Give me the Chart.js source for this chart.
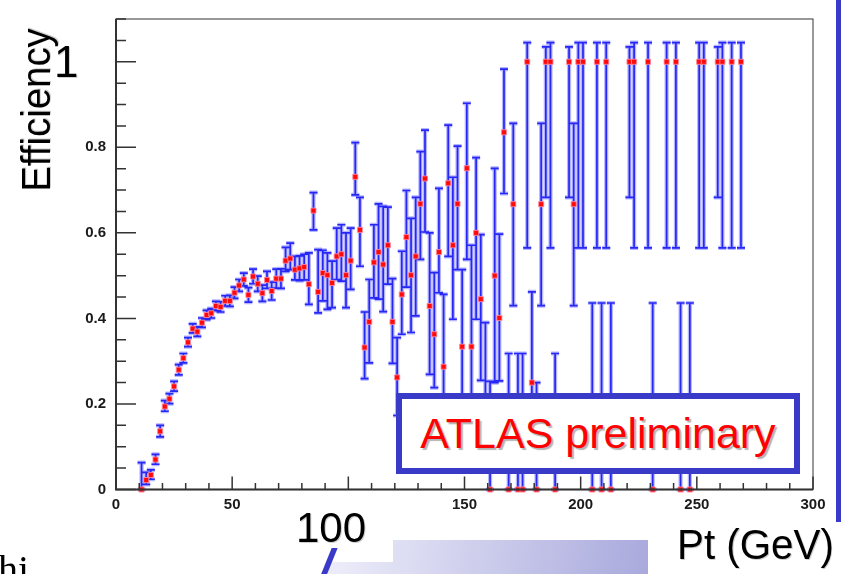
<!DOCTYPE html>
<html>
<head>
<meta charset="utf-8">
<script src="https://cdn.jsdelivr.net/npm/chart.js@4.4.0/dist/chart.umd.min.js"></script>
<style>
  body { margin: 0; background: #fff; }
  #wrap { position: relative; width: 845px; height: 574px; overflow: hidden; font-family: "Liberation Sans", Arial, sans-serif; }
  #chartBox { position: absolute; left: 0; top: 0; width: 845px; height: 574px; }
  .big { position: absolute; color: #000; line-height: 1; white-space: nowrap; text-shadow: 1px 1px 0 #cfcfcf; }
  #yTitle { left: 36px; top: 110px; font-size: 40px; transform: translate(-50%, -50%) rotate(-90deg) scaleX(0.96); }
  #yOne { left: 54px; top: 40px; font-size: 44px; }
  #xHundred { left: 296px; top: 507px; font-size: 42px; }
  #xTitle { left: 677px; top: 524px; font-size: 42px; transform: scaleX(0.96); transform-origin: left top; }
  #atlasBox { position: absolute; left: 396px; top: 393px; width: 404px; height: 81px; box-sizing: border-box;
    border: 6px solid rgb(58, 58, 200); background: #fff; color: #ff0000; font-size: 43px;
    display: flex; align-items: center; justify-content: center; text-shadow: 2px 2px 1px #b4b4b4; white-space: nowrap; }
  #sideBar { position: absolute; left: 836px; top: 0; width: 5px; height: 522px; background: rgb(58, 58, 200); }
  #band { position: absolute; left: 328px; top: 540px; width: 320px; height: 34px; background: linear-gradient(100deg, #eeeefa, #a9a9dd); }
  #notch { position: absolute; left: 320px; top: 538px; width: 73px; height: 24px; background: #fff; }
  #slash { position: absolute; left: 326px; top: 548px; width: 6px; height: 28px; background: rgb(58, 58, 200); transform: skewX(-22deg); }
  #author { position: absolute; left: -2px; top: 550px; font-family: "Liberation Serif", serif; font-size: 40px; line-height: 1; color: #000; }
</style>
</head>
<body>
<div id="wrap">
  <div id="chartBox"><canvas id="effChart"></canvas></div>
  <div id="sideBar"></div>
  <div id="band"></div>
  <div id="notch"></div>
  <div id="slash"></div>
  <div id="author">hi</div>
  <div class="big" id="yTitle">Efficiency</div>
  <div class="big" id="yOne">1</div>
  <div class="big" id="xHundred">100</div>
  <div class="big" id="xTitle">Pt (GeV)</div>
  <div id="atlasBox">ATLAS preliminary</div>
</div>
<script>
// bin centres (GeV) and efficiency with asymmetric error band (absolute low / high)
const ptBins = [11, 13, 15, 17, 19, 21, 23, 25, 27, 29,
    31, 33, 35, 37, 39, 41, 43, 45, 47, 49,
    51, 53, 55, 57, 59, 61, 63, 65, 67, 69,
    71, 73, 75, 77, 79, 81, 83, 85, 87, 89,
    91, 93, 95, 97, 99, 101, 103, 105, 107, 109,
    111, 113, 115, 117, 119, 121, 123, 125, 127, 129,
    131, 133, 135, 137, 139, 141, 143, 145, 147, 149,
    151, 153, 155, 157, 159, 161, 163, 165, 167, 169,
    171, 173, 175, 177, 179, 181, 183, 185, 187, 189,
    195, 197, 199, 201, 205, 207, 209, 211, 213, 221,
    223, 229, 231, 237, 241, 243, 247, 251, 253, 259,
    261, 265, 269];

const efficiency = [0, 0.022, 0.034, 0.07, 0.136, 0.194, 0.212, 0.241, 0.28, 0.307,
    0.344, 0.376, 0.369, 0.39, 0.408, 0.412, 0.429, 0.427, 0.441, 0.441,
    0.46, 0.477, 0.491, 0.455, 0.498, 0.481, 0.459, 0.49, 0.464, 0.493,
    0.493, 0.535, 0.54, 0.514, 0.517, 0.52, 0.48, 0.652, 0.462, 0.506,
    0.501, 0.483, 0.545, 0.55, 0.501, 0.535, 0.731, 0.607, 0.332, 0.392,
    0.531, 0.555, 0.526, 0.571, 0.392, 0.262, 0.456, 0.59, 0.501, 0.545,
    0.668, 0.727, 0.429, 0.363, 0.555, 0.287, 0.716, 0.571, 0.668, 0.334,
    0.751, 0.334, 0.6, 0.445, 0.2, 0, 0.5, 0.401, 0.835, 0,
    0.667, 0, 0, 1, 0.25, 0, 0.667, 1, 1, 0,
    1, 0.667, 1, 1, 0, 1, 0, 1, 0, 1,
    1, 1, 0, 1, 1, 0, 0, 1, 1, 1,
    1, 1, 1];

const effLow = [0, 0.012, 0.024, 0.059, 0.123, 0.183, 0.201, 0.23, 0.268, 0.296,
    0.334, 0.366, 0.358, 0.379, 0.397, 0.401, 0.418, 0.415, 0.429, 0.428,
    0.447, 0.463, 0.476, 0.438, 0.481, 0.463, 0.44, 0.47, 0.443, 0.471,
    0.47, 0.51, 0.514, 0.49, 0.488, 0.49, 0.433, 0.607, 0.413, 0.441,
    0.421, 0.425, 0.491, 0.487, 0.425, 0.468, 0.689, 0.522, 0.259, 0.296,
    0.448, 0.445, 0.416, 0.48, 0.295, 0.173, 0.363, 0.473, 0.367, 0.406,
    0.538, 0.602, 0.269, 0.238, 0.46, 0.15, 0.545, 0.398, 0.514, 0.15,
    0.538, 0.15, 0.398, 0.255, 0.08, 0, 0.25, 0.254, 0.692, 0,
    0.43, 0, 0, 0.565, 0.1, 0, 0.43, 0.683, 0.565, 0,
    0.683, 0.43, 0.565, 0.565, 0, 0.565, 0, 0.565, 0, 0.683,
    0.565, 0.565, 0, 0.565, 0.565, 0, 0, 0.565, 0.565, 0.683,
    0.565, 0.565, 0.565];

const effHigh = [0.063, 0.04, 0.046, 0.082, 0.15, 0.208, 0.224, 0.253, 0.292, 0.318,
    0.355, 0.387, 0.38, 0.401, 0.419, 0.423, 0.44, 0.439, 0.453, 0.454,
    0.473, 0.491, 0.506, 0.472, 0.515, 0.499, 0.478, 0.51, 0.485, 0.515,
    0.516, 0.566, 0.576, 0.545, 0.546, 0.55, 0.553, 0.694, 0.561, 0.559,
    0.553, 0.534, 0.611, 0.619, 0.6, 0.611, 0.811, 0.683, 0.415, 0.491,
    0.619, 0.668, 0.662, 0.66, 0.493, 0.355, 0.557, 0.699, 0.634, 0.683,
    0.79, 0.84, 0.6, 0.507, 0.704, 0.456, 0.852, 0.73, 0.803, 0.514,
    0.903, 0.571, 0.776, 0.596, 0.39, 0.253, 0.751, 0.597, 0.983, 0.318,
    0.856, 0.318, 0.318, 1.045, 0.462, 0.25, 0.856, 1.035, 1.045, 0.318,
    1.035, 0.856, 1.045, 1.045, 0.436, 1.045, 0.436, 1.045, 0.436, 1.035,
    1.045, 1.045, 0.436, 1.045, 1.045, 0.436, 0.436, 1.045, 1.045, 1.035,
    1.045, 1.045, 1.045];

// small axis labels ("1" and "100" are the big slide overlays)
const xTickValues = [0, 50, 150, 200, 250, 300];
const xTickLabels = ['0', '50', '150', '200', '250', '300'];
const yTickValues = [0, 0.2, 0.4, 0.6, 0.8];
const yTickLabels = ['0', '0.2', '0.4', '0.6', '0.8'];

const tickFont = { family: '"Liberation Sans", Arial, sans-serif', size: 15, weight: 'bold' };

// vertical error bars with caps, drawn under the markers
const errorBars = {
    id: 'errorBars',
    beforeDatasetsDraw(chart) {
        const { ctx, scales: { x, y } } = chart;
        const passes = [['rgba(120, 120, 255, 0.55)', 4.2], ['rgb(38, 38, 245)', 1.7]];
        ctx.save();
        passes.forEach(([color, width]) => {
            ctx.strokeStyle = color;
            ctx.lineWidth = width;
            ctx.beginPath();
            ptBins.forEach((pt, i) => {
                const px = x.getPixelForValue(pt);
                const top = y.getPixelForValue(effHigh[i]);
                const bot = y.getPixelForValue(effLow[i]);
                ctx.moveTo(px, top); ctx.lineTo(px, bot);
                ctx.moveTo(px - 4, top); ctx.lineTo(px + 4, top);
                ctx.moveTo(px - 4, bot); ctx.lineTo(px + 4, bot);
            });
            ctx.stroke();
        });
        ctx.restore();
    }
};

// ROOT style frame with ticks pointing inwards
const rootFrame = {
    id: 'rootFrame',
    afterDatasetsDraw(chart) {
        const { ctx, chartArea: a, scales: { x, y } } = chart;
        ctx.save();
        ctx.strokeStyle = '#555';
        ctx.lineWidth = 1.2;
        ctx.strokeRect(a.left, a.top, a.right - a.left, a.bottom - a.top);

        ctx.strokeStyle = '#333';
        ctx.lineWidth = 2;
        ctx.beginPath();
        ctx.moveTo(a.left, a.top); ctx.lineTo(a.left, a.bottom); ctx.lineTo(a.right, a.bottom);
        ctx.stroke();

        ctx.lineWidth = 1.5;
        ctx.beginPath();
        for (let v = 0; v <= 300; v += 10) {
            const px = x.getPixelForValue(v);
            const len = v % 50 === 0 ? 13 : 6.5;
            ctx.moveTo(px, a.bottom); ctx.lineTo(px, a.bottom - len);
        }
        for (let k = 0; k <= 22; k++) {
            const py = y.getPixelForValue(k * 0.05);
            const len = k % 4 === 0 ? 20 : 10;
            ctx.moveTo(a.left, py); ctx.lineTo(a.left + len, py);
        }
        ctx.stroke();
        ctx.restore();
    }
};

const ctx = document.getElementById('effChart').getContext('2d');

const effChart = new Chart(ctx, {
    type: 'scatter',
    data: {
        datasets: [{
            label: 'Efficiency',
            data: ptBins.map((pt, i) => ({ x: pt, y: efficiency[i] })),
            pointStyle: 'rect',
            pointRadius: 3.6,
            pointHoverRadius: 3.6,
            backgroundColor: '#ff0a0a',
            borderColor: 'rgba(255, 140, 160, 0.85)',
            borderWidth: 1,
            showLine: false,
            clip: false
        }]
    },
    options: {
        responsive: true,
        maintainAspectRatio: false,
        animation: false,
        devicePixelRatio: 1,
        layout: { padding: { left: 0, right: 32, top: 15, bottom: 0 } },
        plugins: {
            legend: { display: false },
            tooltip: { enabled: false }
        },
        scales: {
            x: {
                type: 'linear',
                min: 0,
                max: 300,
                afterBuildTicks: s => { s.ticks = xTickValues.map(v => ({ value: v })); },
                afterFit: s => { s.height = 84.5; },
                grid: { display: false, drawTicks: false },
                border: { display: false },
                ticks: {
                    padding: 6,
                    autoSkip: false,
                    maxRotation: 0,
                    color: '#1a1a1a',
                    font: tickFont,
                    callback: (v, i) => xTickLabels[i]
                }
            },
            y: {
                type: 'linear',
                min: 0,
                max: 1.1,
                afterBuildTicks: s => { s.ticks = yTickValues.map(v => ({ value: v })); },
                afterFit: s => { s.width = 116; },
                grid: { display: false, drawTicks: false },
                border: { display: false },
                ticks: {
                    padding: 10,
                    color: '#1a1a1a',
                    font: tickFont,
                    callback: (v, i) => yTickLabels[i]
                }
            }
        }
    },
    plugins: [errorBars, rootFrame]
});
</script>
</body>
</html>
